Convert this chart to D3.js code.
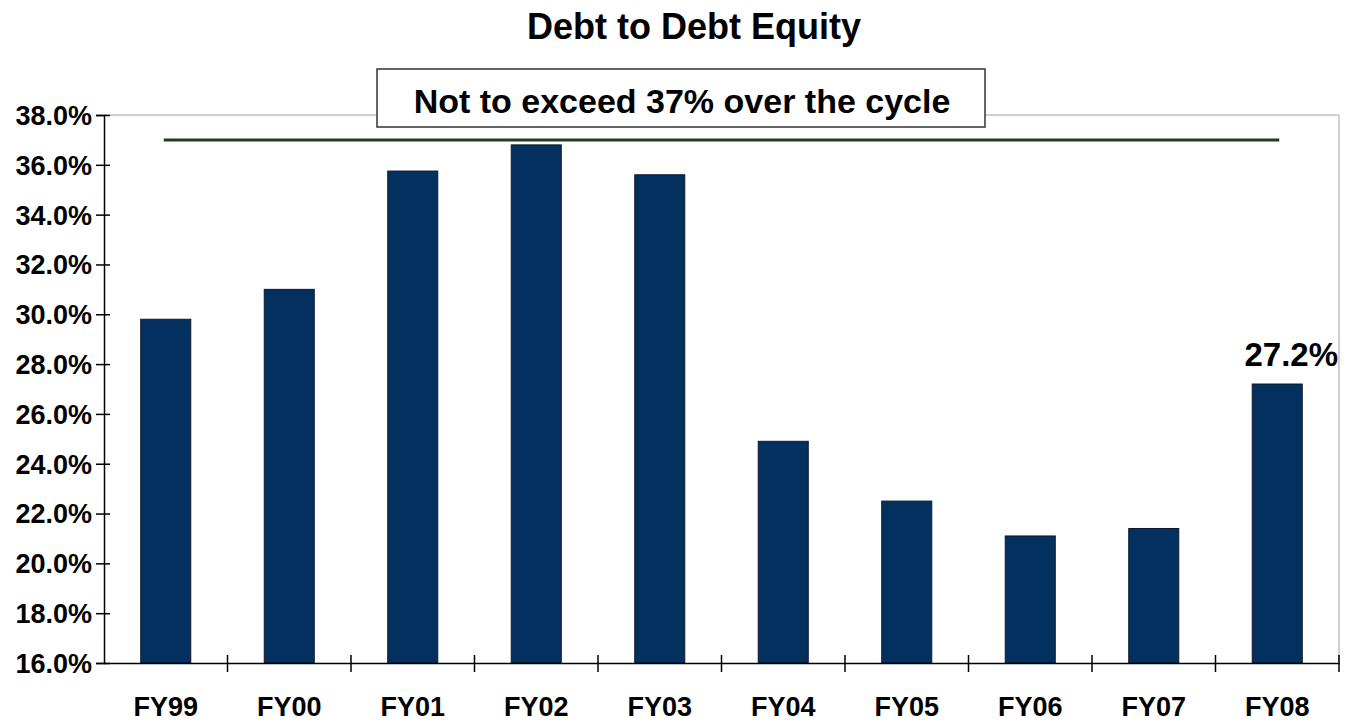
<!DOCTYPE html>
<html>
<head>
<meta charset="utf-8">
<script src="https://cdn.jsdelivr.net/npm/d3@7"></script>
<style>
  body { margin: 0; background: #fff; }
  text { font-family: "Liberation Sans", Arial, sans-serif; font-weight: bold; }
</style>
</head>
<body>
<svg id="chart" width="1353" height="725"></svg>
<script>
// Chart data
const years = ["FY99", "FY00", "FY01", "FY02", "FY03", "FY04", "FY05", "FY06", "FY07", "FY08"];
const ratios = [29.8, 31.0, 35.75, 36.8, 35.6, 24.9, 22.5, 21.1, 21.4, 27.2];
const yTicks = [16, 18, 20, 22, 24, 26, 28, 30, 32, 34, 36, 38];
const limit = 37;

const svg = d3.select("#chart");
const margin = { top: 115, right: 14, bottom: 62, left: 104 };
const width = 1353 - margin.left - margin.right;
const height = 725 - margin.top - margin.bottom;

const x = d3.scaleBand().domain(years).range([0, width]).paddingInner(0.595).paddingOuter(0.2975);
const y = d3.scaleLinear().domain([16, 38]).range([height, 0]);

const g = svg.append("g").attr("transform", `translate(${margin.left},${margin.top})`);

// Title
svg.append("text")
    .attr("x", 694).attr("y", 39)
    .attr("text-anchor", "middle")
    .style("font-size", "36px")
    .text("Debt to Debt Equity");

// plot frame (top and right, light gray)
g.append("path")
    .attr("d", `M0,0H${width}V${height}`)
    .attr("fill", "none")
    .attr("stroke", "#a0a0a0")
    .attr("stroke-width", 1);

// Bars
g.selectAll(".bar")
    .data(ratios)
    .enter().append("rect")
    .attr("class", "bar")
    .attr("x", (d, i) => x(years[i]))
    .attr("y", d => y(d))
    .attr("width", x.bandwidth())
    .attr("height", d => height - y(d))
    .attr("fill", "#04305f")
    .attr("stroke", "#0b1a30")
    .attr("stroke-width", 1);

// limit line, from first to last bar centre
const mid = d => x(d) + x.bandwidth() / 2;
g.append("line")
    .attr("x1", mid(years[0]) - 2)
    .attr("x2", mid(years[years.length - 1]) + 2)
    .attr("y1", y(limit)).attr("y2", y(limit))
    .attr("stroke", "#1c3f1c")
    .attr("stroke-width", 3);

// Y axis
const yAxis = g.append("g")
    .call(d3.axisLeft(y).tickValues(yTicks).tickFormat(d => d.toFixed(1) + "%").tickSize(8).tickPadding(4));
yAxis.select(".domain").attr("stroke", "#000").attr("stroke-width", 1.5);
yAxis.selectAll(".tick line").attr("stroke", "#000").attr("stroke-width", 1.5).attr("x1", 6);
yAxis.selectAll(".tick text").style("font-size", "27px").attr("dy", "0.35em");

// X axis
const xAxis = g.append("g").attr("transform", `translate(0,${height})`)
    .call(d3.axisBottom(x).tickSize(0).tickPadding(30));
xAxis.select(".domain").attr("stroke", "#000").attr("stroke-width", 1.5);
xAxis.selectAll(".tick text").style("font-size", "27px").attr("fill", "#000").attr("dy", 0).attr("y", 53);

// category boundary ticks
g.selectAll(".xsep")
    .data(d3.range(1, years.length + 1))
    .enter().append("line")
    .attr("x1", d => d * width / years.length)
    .attr("x2", d => d * width / years.length)
    .attr("y1", height - 8).attr("y2", height + 9)
    .attr("stroke", "#000").attr("stroke-width", 1.5);

// last value label
const last = ratios.length - 1;
g.append("text")
    .attr("x", mid(years[last]) + 14)
    .attr("y", y(ratios[last]) - 18)
    .attr("text-anchor", "middle")
    .style("font-size", "33px")
    .text(ratios[last].toFixed(1) + "%");

// annotation box
svg.append("rect")
    .attr("x", 377).attr("y", 69)
    .attr("width", 608).attr("height", 58)
    .attr("fill", "#fff")
    .attr("stroke", "#333")
    .attr("stroke-width", 1.5);
svg.append("text")
    .attr("x", 682).attr("y", 113)
    .attr("text-anchor", "middle")
    .style("font-size", "34px")
    .text("Not to exceed 37% over the cycle");
</script>
</body>
</html>
